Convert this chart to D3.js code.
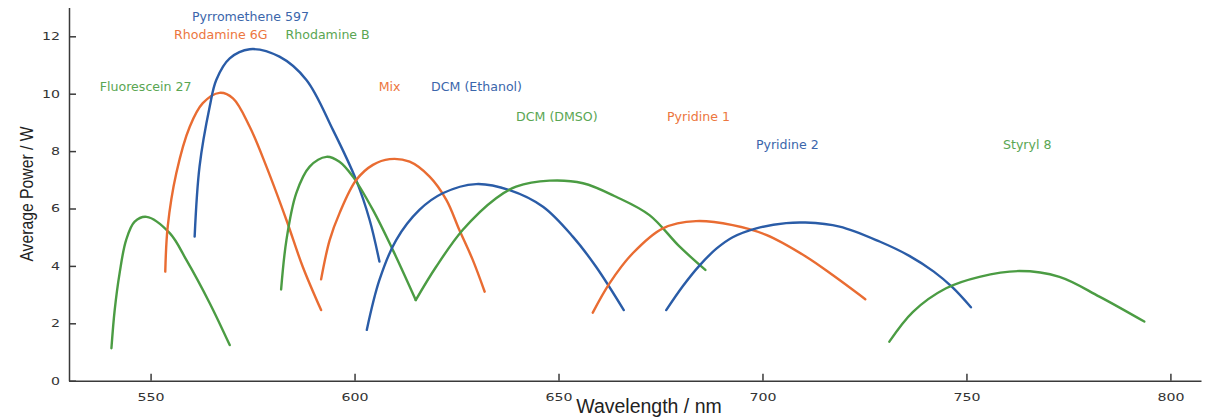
<!DOCTYPE html>
<html>
<head>
<meta charset="utf-8">
<script src="https://cdn.jsdelivr.net/npm/d3@7"></script>
<style>
  body { margin: 0; background: #fff; }
  svg { display: block; }
</style>
</head>
<body>
<svg id="chart"></svg>
<script>
// dye curves: wavelength (nm) and average power (W)
var dyeNames = ["Fluorescein 27", "Rhodamine 6G", "Pyrromethene 597", "Rhodamine B", "Mix",
                "DCM (Ethanol)", "DCM (DMSO)", "Pyridine 1", "Pyridine 2", "Styryl 8"]
var dyeColors = ["green", "orange", "blue", "green", "orange", "blue", "green", "orange", "blue", "green"]

var fluoresceinWl = [540.4, 541.2, 542.4, 544.0, 546.1, 549.0, 554.7, 558.8, 564.5, 569.4]
var fluoresceinW  = [1.13, 2.46, 3.74, 4.9, 5.54, 5.71, 5.14, 4.2, 2.7, 1.24]

var rhodamine6gWl = [553.6, 554.2, 556.3, 559.6, 562.8, 566.9, 570.2, 574.3, 578.4, 583.3, 587.3, 591.8]
var rhodamine6gW  = [3.8, 5.37, 7.23, 8.85, 9.67, 10.03, 9.84, 8.85, 7.46, 5.6, 3.97, 2.46]

var pyrromWl = [560.8, 562.0, 564.5, 566.1, 569.4, 574.3, 581.6, 588.2, 594.7, 600.4, 603.7, 606.1]
var pyrromW  = [5.02, 7.46, 9.55, 10.48, 11.23, 11.55, 11.29, 10.48, 8.74, 6.99, 5.6, 4.15]

var rhodamineBWl = [582.0, 583.3, 585.7, 589.0, 593.1, 596.3, 599.6, 604.5, 609.4, 615.0]
var rhodamineBW  = [3.18, 4.9, 6.53, 7.46, 7.8, 7.63, 7.11, 5.95, 4.55, 2.81]

var mixWl = [591.8, 593.9, 596.3, 600.4, 604.5, 608.6, 613.5, 618.4, 622.5, 625.7, 629.0, 631.9]
var mixW  = [3.53, 4.9, 5.83, 6.99, 7.52, 7.72, 7.63, 7.11, 6.3, 5.25, 4.2, 3.1]

var dcmEthWl = [603.0, 606.1, 610.2, 615.9, 621.6, 629.8, 638.0, 646.2, 653.5, 659.2, 666.0]
var dcmEthW  = [1.77, 3.51, 4.9, 5.95, 6.53, 6.85, 6.64, 6.06, 5.02, 3.97, 2.46]

var dcmDmsoWl = [615.0, 620.0, 626.5, 634.7, 639.6, 647.8, 656.0, 664.1, 672.3, 679.7, 686.0]
var dcmDmsoW  = [2.81, 3.97, 5.25, 6.36, 6.76, 6.97, 6.88, 6.41, 5.77, 4.67, 3.86]

var pyridine1Wl = [658.4, 662.5, 668.2, 675.6, 683.7, 692.7, 700.9, 710.7, 717.2, 725.2]
var pyridine1W  = [2.37, 3.39, 4.44, 5.31, 5.56, 5.42, 5.08, 4.32, 3.68, 2.84]

var pyridine2Wl = [676.4, 680.5, 684.6, 688.7, 692.7, 698.5, 705.8, 710.5, 718.9, 728.7, 736.0, 742.0, 746.6, 751.1]
var pyridine2W  = [2.46, 3.3, 4.02, 4.6, 5.0, 5.31, 5.49, 5.51, 5.37, 4.85, 4.35, 3.8, 3.25, 2.56]

var styrylWl = [731.1, 736.9, 745.0, 753.2, 763.0, 772.8, 782.6, 793.6]
var styrylW  = [1.36, 2.4, 3.22, 3.62, 3.82, 3.62, 2.93, 2.06]

var allWl = [fluoresceinWl, rhodamine6gWl, pyrromWl, rhodamineBWl, mixWl, dcmEthWl, dcmDmsoWl, pyridine1Wl, pyridine2Wl, styrylWl]
var allW  = [fluoresceinW, rhodamine6gW, pyrromW, rhodamineBW, mixW, dcmEthW, dcmDmsoW, pyridine1W, pyridine2W, styrylW]

// where each name sits (wavelength, power of baseline)
var labelWl = [548.8, 567.2, 574.5, 593.4, 608.6, 629.9, 649.6, 684.3, 706.1, 764.9]
var labelW  = [10.09, 11.89, 12.53, 11.89, 10.09, 10.09, 9.06, 9.06, 8.06, 8.06]

var xTicks = [550, 600, 650, 700, 750, 800]
var yTicks = [0, 2, 4, 6, 8, 10, 12]

//svg dimensions
var dimensions = { width: 1212, height: 419 }

//drawing style
var lineColors  = { blue: "#2a5ca7", orange: "#e96c32", green: "#4b9c43" }
var labelColors = { blue: "#3b66ab", orange: "#ec7640", green: "#5aa653" }
var axisColor = "#3a3a3a"
var lineWidth = 2.4

var svg = d3.select("#chart")
            .attr("width", dimensions.width)
            .attr("height", dimensions.height)

var xScale = d3.scaleLinear().domain([530, 807.5]).range([69, 1201])
var yScale = d3.scaleLinear().domain([0, 13]).range([380.7, 7.6])

//x axis
var xAxis = svg.append("g")
               .attr("transform", `translate(0,${yScale(0)})`)
               .call(d3.axisBottom(xScale).tickValues(xTicks).tickSizeInner(-7).tickSizeOuter(0))
xAxis.selectAll("text")
     .attr("y", 20).attr("dy", 0)
     .attr("transform", "scale(1.35,1)")
//y axis
var yAxis = svg.append("g")
               .attr("transform", `translate(${xScale(530)},0)`)
               .call(d3.axisLeft(yScale).tickValues(yTicks).tickSizeInner(-7).tickSizeOuter(0))
yAxis.selectAll("text")
     .attr("x", -9 / 1.35)
     .attr("transform", "scale(1.35,1)")

svg.selectAll(".domain, .tick line")
   .attr("stroke", axisColor)
   .attr("stroke-width", 1.5)
svg.selectAll(".tick text")
   .attr("fill", "#333")
   .attr("font-family", "DejaVu Sans")
   .attr("font-size", 10.5)

//axis titles
svg.append("text")
   .attr("transform", "translate(649,413)")
   .attr("text-anchor", "middle")
   .attr("font-family", "Liberation Sans, Arial")
   .attr("font-size", 19.5)
   .attr("fill", "#222")
   .text("Wavelength / nm")
svg.append("text")
   .attr("transform", "translate(33,194) rotate(-90) scale(0.9,1)")
   .attr("text-anchor", "middle")
   .attr("font-family", "Liberation Sans, Arial")
   .attr("font-size", 17.5)
   .attr("fill", "#222")
   .text("Average Power / W")

//curves
var line = d3.line()
             .x(d => xScale(d[0]))
             .y(d => yScale(d[1]))
             .curve(d3.curveCatmullRom.alpha(0.5))

svg.append("g")
   .selectAll(".dye")
   .data(dyeNames)
   .enter()
   .append("path")
   .attr("class", "dye")
   .attr("d", (d, i) => line(allWl[i].map((w, j) => [w, allW[i][j]])))
   .attr("fill", "none")
   .attr("stroke", (d, i) => lineColors[dyeColors[i]])
   .attr("stroke-width", lineWidth)
   .attr("stroke-linecap", "round")

//dye names
svg.append("g")
   .selectAll(".dye-label")
   .data(dyeNames)
   .enter()
   .append("text")
   .attr("class", "dye-label")
   .attr("x", (d, i) => xScale(labelWl[i]))
   .attr("y", (d, i) => yScale(labelW[i]))
   .attr("text-anchor", "middle")
   .attr("font-family", "DejaVu Sans")
   .attr("font-size", 12.6)
   .attr("fill", (d, i) => labelColors[dyeColors[i]])
   .text(d => d)
</script>
</body>
</html>
